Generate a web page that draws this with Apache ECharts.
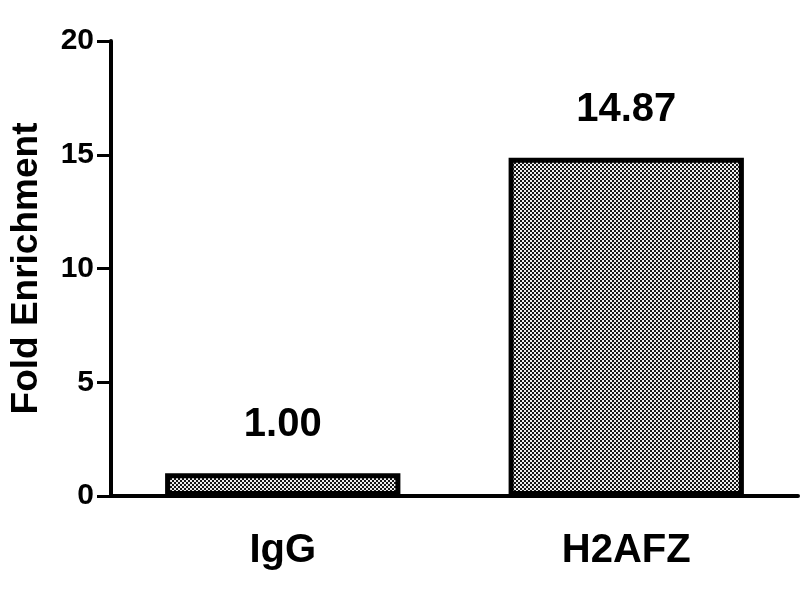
<!DOCTYPE html>
<html>
<head>
<meta charset="utf-8">
<script src="https://cdn.jsdelivr.net/npm/echarts@6/dist/echarts.min.js"></script>
<style>html,body{margin:0;padding:0;background:#fff}#c{width:800px;height:600px}</style>
</head>
<body>
<div id="c"></div>
<script>
var categories = ['IgG', 'H2AFZ'];
var values = [1.00, 14.87];
var valueLabels = ['1.00', '14.87'];
var yTicks = [0, 5, 10, 15, 20];

function makePattern() {
  var cv = document.createElement('canvas');
  cv.width = 4; cv.height = 4;
  var ctx = cv.getContext('2d');
  ctx.fillStyle = '#eeeeee';
  ctx.fillRect(0, 0, 4, 4);
  ctx.fillStyle = '#151515';
  ctx.fillRect(0, 0, 2, 2);
  ctx.fillRect(2, 2, 2, 2);
  return cv;
}

var chart = echarts.init(document.getElementById('c'), null, {renderer: 'canvas'});
var font = 'Liberation Sans, Arial, sans-serif';
chart.setOption({
  animation: false,
  grid: {left: 107, right: 2, top: 41, bottom: 104},
  xAxis: {
    type: 'category',
    data: categories,
    axisLine: {lineStyle: {color: '#000', width: 4}},
    axisTick: {alignWithLabel: true, length: 14, lineStyle: {color: '#000', width: 3}},
    axisLabel: {color: '#000', fontFamily: font, fontWeight: 'bold', fontSize: 40, margin: 35}
  },
  yAxis: {
    type: 'value',
    min: yTicks[0], max: yTicks[yTicks.length - 1], interval: 5,
    name: 'Fold Enrichment',
    nameLocation: 'middle',
    nameGap: 66,
    nameRotate: 90,
    nameTextStyle: {color: '#000', fontFamily: font, fontWeight: 'bold', fontSize: 37},
    splitLine: {show: false},
    axisLine: {show: true, lineStyle: {color: '#000', width: 4}},
    axisTick: {show: true, length: 14, lineStyle: {color: '#000', width: 3}},
    axisLabel: {color: '#000', fontFamily: font, fontWeight: 'bold', fontSize: 30, margin: 17}
  },
  series: [{
    type: 'bar',
    data: values,
    barWidth: '68.5%',
    itemStyle: {
      color: {image: makePattern(), repeat: 'repeat'},
      borderColor: '#000',
      borderWidth: 5
    },
    label: {
      show: true,
      position: 'top',
      distance: 28,
      color: '#000',
      fontFamily: font,
      fontWeight: 'bold',
      fontSize: 40,
      formatter: function (p) { return valueLabels[p.dataIndex]; }
    }
  }]
});
</script>
</body>
</html>
